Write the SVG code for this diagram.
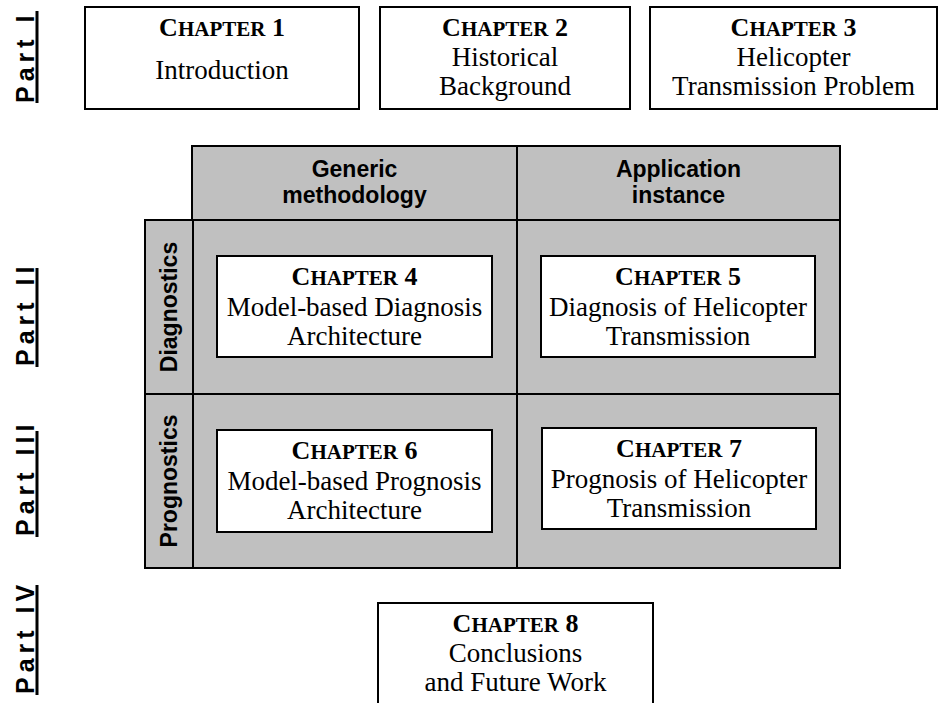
<svg xmlns="http://www.w3.org/2000/svg" width="942" height="703" viewBox="0 0 942 703">
<style>
.box{fill:#fff;stroke:#000;stroke-width:2}
.cell{fill:#c0c0c0;stroke:#000;stroke-width:2}
.t{font-family:"Liberation Serif","Times New Roman",serif;font-size:27px;fill:#000;text-anchor:middle}
.h{font-weight:bold;font-size:26px}
.sc{font-size:21px}
.s{font-family:"Liberation Sans",Arial,sans-serif;font-weight:bold;font-size:23px;fill:#000;text-anchor:middle}
.part{font-family:"Liberation Sans",Arial,sans-serif;font-weight:bold;font-size:25px;letter-spacing:5px;fill:#000}
.ul{fill:#000}
</style>
<rect width="942" height="703" fill="#fff"/>

<g id="part1">
<text class="part" transform="translate(34,103) rotate(-90)">Part I</text>
<rect class="ul" x="35.5" y="11" width="3" height="92"/>
</g>
<g id="part2">
<text class="part" transform="translate(34,366) rotate(-90)">Part II</text>
<rect class="ul" x="35.5" y="268" width="3" height="99"/>
</g>
<g id="part3">
<text class="part" transform="translate(34,536) rotate(-90)">Part III</text>
<rect class="ul" x="35.5" y="431" width="3" height="106"/>
</g>
<g id="part4">
<text class="part" transform="translate(34,694) rotate(-90)">Part IV</text>
<rect class="ul" x="35.5" y="585" width="3" height="110"/>
</g>

<g id="ch1">
<rect class="box" x="85" y="7" width="274" height="102"/>
<text class="t h" x="222" y="36">C<tspan class="sc">HAPTER</tspan> 1</text>
<text class="t" x="222" y="79">Introduction</text>
</g>
<g id="ch2">
<rect class="box" x="380" y="7" width="250" height="102"/>
<text class="t h" x="505" y="36">C<tspan class="sc">HAPTER</tspan> 2</text>
<text class="t" x="505" y="66">Historical</text>
<text class="t" x="505" y="95">Background</text>
</g>
<g id="ch3">
<rect class="box" x="650" y="7" width="287" height="102"/>
<text class="t h" x="793.5" y="36">C<tspan class="sc">HAPTER</tspan> 3</text>
<text class="t" x="793.5" y="66">Helicopter</text>
<text class="t" x="793.5" y="95">Transmission Problem</text>
</g>

<g id="grid">
<rect class="cell" x="192" y="146" width="325" height="74"/>
<rect class="cell" x="517" y="146" width="323" height="74"/>
<rect class="cell" x="145" y="220" width="48" height="174"/>
<rect class="cell" x="145" y="394" width="48" height="174"/>
<rect class="cell" x="193" y="220" width="324" height="174"/>
<rect class="cell" x="517" y="220" width="323" height="174"/>
<rect class="cell" x="193" y="394" width="324" height="174"/>
<rect class="cell" x="517" y="394" width="323" height="174"/>
</g>
<g id="col-generic">
<text class="s" x="354.5" y="177">Generic</text>
<text class="s" x="354.5" y="203">methodology</text>
</g>
<g id="col-application">
<text class="s" x="678.5" y="177">Application</text>
<text class="s" x="678.5" y="203">instance</text>
</g>
<g id="row-diagnostics">
<text class="s" transform="translate(177,307) rotate(-90)">Diagnostics</text>
</g>
<g id="row-prognostics">
<text class="s" transform="translate(177,481) rotate(-90)">Prognostics</text>
</g>

<g id="ch4">
<rect class="box" x="217" y="256" width="275" height="101"/>
<text class="t h" x="354.5" y="285">C<tspan class="sc">HAPTER</tspan> 4</text>
<text class="t" x="354.5" y="316">Model-based Diagnosis</text>
<text class="t" x="354.5" y="345">Architecture</text>
</g>
<g id="ch5">
<rect class="box" x="541" y="256" width="274" height="101"/>
<text class="t h" x="678" y="285">C<tspan class="sc">HAPTER</tspan> 5</text>
<text class="t" x="678" y="316">Diagnosis of Helicopter</text>
<text class="t" x="678" y="345">Transmission</text>
</g>
<g id="ch6">
<rect class="box" x="217" y="430" width="275" height="102"/>
<text class="t h" x="354.5" y="459">C<tspan class="sc">HAPTER</tspan> 6</text>
<text class="t" x="354.5" y="490">Model-based Prognosis</text>
<text class="t" x="354.5" y="519">Architecture</text>
</g>
<g id="ch7">
<rect class="box" x="542" y="428" width="274" height="101"/>
<text class="t h" x="679" y="457">C<tspan class="sc">HAPTER</tspan> 7</text>
<text class="t" x="679" y="488">Prognosis of Helicopter</text>
<text class="t" x="679" y="517">Transmission</text>
</g>
<g id="ch8">
<rect class="box" x="378" y="603" width="275" height="120"/>
<text class="t h" x="515.5" y="632">C<tspan class="sc">HAPTER</tspan> 8</text>
<text class="t" x="515.5" y="662">Conclusions</text>
<text class="t" x="515.5" y="691">and Future Work</text>
</g>
<g id="connectors"/>
</svg>
